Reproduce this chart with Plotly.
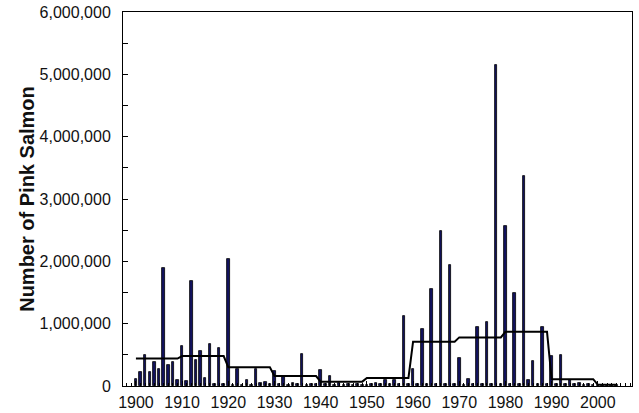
import plotly.graph_objects as go

years = list(range(1900, 2005))
catch = [
    0.12, 0.22, 0.49, 0.23, 0.38, 0.28, 1.90, 0.33, 0.38, 0.10,   # 1900s
    0.64, 0.075, 1.68, 0.42, 0.56, 0.13, 0.67, 0.04, 0.61, 0.03,  # 1910s
    2.04, 0.02, 0.28, 0.02, 0.10, 0.02, 0.28, 0.05, 0.07, 0.03,   # 1920s
    0.24, 0.03, 0.14, 0.02, 0.05, 0.04, 0.52, 0.02, 0.04, 0.03,   # 1930s
    0.25, 0.03, 0.165, 0.02, 0.05, 0.02, 0.04, 0.02, 0.03, 0.02,  # 1940s
    0.02, 0.04, 0.05, 0.03, 0.10, 0.03, 0.09, 0.03, 1.13, 0.04,   # 1950s
    0.28, 0.03, 0.91, 0.04, 1.55, 0.03, 2.49, 0.04, 1.94, 0.03,   # 1960s
    0.45, 0.02, 0.11, 0.03, 0.94, 0.04, 1.03, 0.03, 5.15, 0.03,   # 1970s
    2.57, 0.03, 1.49, 0.04, 3.37, 0.10, 0.40, 0.04, 0.95, 0.03,   # 1980s
    0.48, 0.03, 0.49, 0.03, 0.10, 0.03, 0.05, 0.02, 0.04, 0.02,   # 1990s
    0.01, 0.02, 0.01, 0.02, 0.02,                                 # 2000s
]
catch = [v * 1e6 for v in catch]

decades = [1900, 1910, 1920, 1930, 1940, 1950, 1960, 1970, 1980, 1990, 2000]
decade_mean = [0.44, 0.48, 0.30, 0.16, 0.07, 0.13, 0.71, 0.78, 0.87, 0.11, 0.02]
mean_line = [decade_mean[decades.index(y - y % 10)] * 1e6 for y in years]

y_ticks = [0, 1e6, 2e6, 3e6, 4e6, 5e6, 6e6]
x_ticks = list(range(1900, 2001, 10))

font = "Arial, Liberation Sans, sans-serif"

fig = go.Figure()
fig.add_trace(go.Bar(
    x=years, y=catch, width=0.55,
    marker=dict(color="#12125e", line=dict(color="black", width=0.8)),
    showlegend=False,
))
fig.add_trace(go.Scatter(
    x=years, y=mean_line, mode="lines",
    line=dict(color="black", width=2),
    showlegend=False,
))

fig.update_layout(
    width=639, height=413,
    margin=dict(l=123, r=7, t=12, b=27),
    plot_bgcolor="white", paper_bgcolor="white",
    font=dict(family=font, size=16, color="#111"),
    bargap=0,
)
fig.update_xaxes(
    range=[1897.2, 2007.4], automargin=False,
    tickvals=x_ticks, ticks="inside", ticklen=5, tickcolor="black",
    minor=dict(dtick=1, tick0=1900, ticks="inside", ticklen=3, tickcolor="black"),
    showline=True, linecolor="black", linewidth=1, mirror=True,
    showgrid=False, zeroline=False,
    tickfont=dict(size=16, family=font),
    ticklabelstandoff=2,
)
fig.update_yaxes(
    range=[0, 6e6], automargin=False,
    tickvals=y_ticks, tickformat=",d", ticks="inside", ticklen=5, tickcolor="black",
    minor=dict(dtick=5e5, tick0=0, ticks="inside", ticklen=5, tickcolor="black"),
    showline=True, linecolor="black", linewidth=1, mirror=True,
    showgrid=False, zeroline=False,
    tickfont=dict(size=16, family=font),
    ticklabelstandoff=8,
)
fig.add_annotation(
    text="<b>Number of Pink Salmon</b>", textangle=-90,
    xref="paper", yref="paper", x=-0.189, y=0.5,
    xanchor="center", yanchor="middle", showarrow=False,
    font=dict(size=20, family=font, color="#111"),
)

fig.write_html(
    "out.html",
    config={"displayModeBar": False},
    post_script="document.body.style.margin='0';document.body.style.overflow='hidden';",
)
